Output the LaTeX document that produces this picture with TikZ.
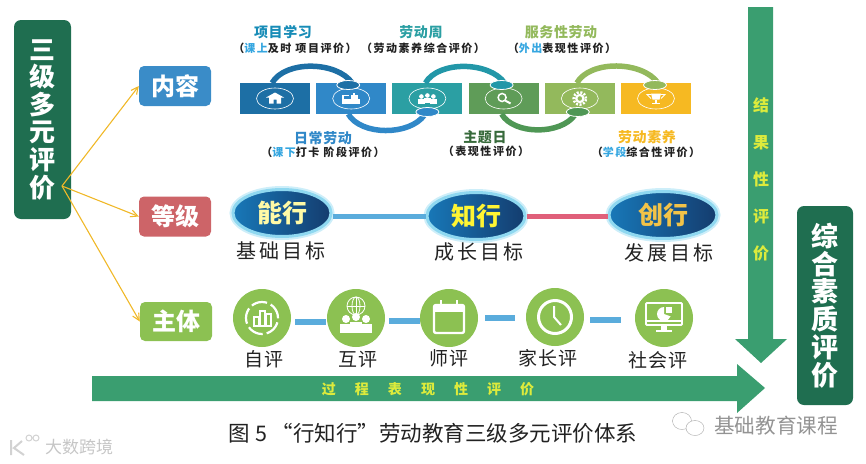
\documentclass[tikz,border=0pt]{standalone}
\usepackage{fontspec}
\setmainfont{Noto Sans CJK SC}
\usepackage{tikz}
\usetikzlibrary{positioning,arrows.meta,calc,shapes.geometric}
\newcommand{\fsz}[2]{\fontsize{#1}{#2}\selectfont}
\newcommand{\wider}[1]{\addfontfeature{LetterSpace=#1}}
\definecolor{deepgreen}{HTML}{1F6E50}
\definecolor{arrowgreen}{HTML}{3A9E70}
\definecolor{arrowtext}{HTML}{DDEB3C}
\definecolor{gold}{HTML}{F0B828}
\definecolor{boxblue}{HTML}{3A8CC8}
\definecolor{boxred}{HTML}{CD6468}
\definecolor{boxlime}{HTML}{8CC152}
\definecolor{blka}{HTML}{1D6FA5}
\definecolor{blkb}{HTML}{3088C8}
\definecolor{blkc}{HTML}{2B9FA3}
\definecolor{blkd}{HTML}{5F9C58}
\definecolor{blke}{HTML}{93B95C}
\definecolor{blkf}{HTML}{F6B922}
\definecolor{bandc}{HTML}{2297A8}
\definecolor{bandd}{HTML}{4F9755}
\definecolor{skyword}{HTML}{35A6E0}
\definecolor{barblue}{HTML}{5AACDC}
\definecolor{barred}{HTML}{E0607A}
\definecolor{inkdark}{HTML}{222222}
\definecolor{goalleft}{HTML}{1878B8}
\definecolor{goalright}{HTML}{143C6E}
\definecolor{glowin}{HTML}{8FD8F0}
\definecolor{glowout}{HTML}{CDEEF9}
\tikzset{
  sidebox/.style={fill=deepgreen,rounded corners=7pt,inner sep=0pt,text=white,
    align=center,font=\bfseries},
  kindbox/.style={fill=#1,rounded corners=5pt,minimum width=72pt,minimum height=40pt,
    inner sep=0pt,text=white,font=\bfseries\fsz{24}{24}},
  spoke/.style={-{Straight Barb[length=7pt,width=7pt]},draw=gold,line width=1.1pt},
  block/.style={fill=#1,minimum width=70pt,minimum height=31pt,inner sep=0pt,outer sep=0pt},
  ringmark/.style={ellipse,draw=white,line width=0.6pt,minimum width=37pt,minimum height=21pt,inner sep=0pt},
  band/.style={draw=#1,line width=5.5pt},
  blob/.style={ellipse,fill=#1,draw=white,line width=0.8pt,minimum width=23pt,minimum height=9pt,inner sep=0pt},
  toptitle/.style={text=#1,font=\bfseries\fsz{14}{14}\wider{4}},
  topnote/.style={text=inkdark,font=\bfseries\fsz{11}{11}\wider{14}},
  goal/.style={ellipse,minimum width=#1,minimum height=47pt,inner sep=0pt,
    left color=goalleft,right color=goalright,
    preaction={draw=glowout,line width=7pt},draw=glowin,line width=3pt,
    font=\bfseries\fsz{25}{25}},
  goalname/.style={text=inkdark,font=\fsz{20}{20}\wider{14}},
  goalbar/.style={draw=#1,line width=5pt},
  actor/.style={circle,fill=boxlime,minimum size=58pt,inner sep=0pt},
  actorname/.style={text=inkdark,font=\fsz{19}{19}\wider{4}},
  actorbar/.style={draw=barblue,line width=6pt},
  up/.style={y=1pt,white},
}
\begin{document}
\begin{tikzpicture}[x=1pt,y=-1pt]
  \useasboundingbox (0,0) rectangle (866,463);

  % left column
  \node[sidebox,minimum width=57pt,minimum height=199pt,font=\bfseries\fsz{26}{27.6}] (sanji) at (42.5,119.5) {三\\级\\多\\元\\评\\价};
  \node[kindbox=boxblue] (neirong) at (175,86) {内容};
  \node[kindbox=boxred] (dengji) at (175,216.5) {等级};
  \node[kindbox=boxlime,minimum height=39pt] (zhuti) at (176,321.5) {主体};
  \coordinate (hub) at (62,186);
  \draw[spoke] (hub) -- (neirong.west);
  \draw[spoke] (hub) -- (dengji.west);
  \draw[spoke] (hub) -- (zhuti.west);

  % content row
  \node[block=blka] (blockA) at (275,98.5) {};
  \node[block=blkb,right=6.2pt of blockA] (blockB) {};
  \node[block=blkc,right=6.2pt of blockB] (blockC) {};
  \node[block=blkd,right=6.2pt of blockC] (blockD) {};
  \node[block=blke,right=6.2pt of blockD] (blockE) {};
  \node[block=blkf,right=6.2pt of blockE] (blockF) {};
  \foreach \b in {blockA,blockB,blockC,blockD,blockE,blockF}
    \node[ringmark] (ring\b) at (\b) {};

  \coordinate (endB) at ([shift={(1,0)}]blockB.north);
  \coordinate (endC) at ([shift={(-3,1)}]blockC.south);
  \coordinate (endD) at ([shift={(1,0)}]blockD.north);
  \coordinate (endE) at ([shift={(-5,1)}]blockE.south);
  \coordinate (endF) at ([shift={(2,0)}]blockF.north);
  \draw[band=blka] ([xshift=-3pt]blockA.north) to[out=60,in=125,looseness=.85] (endB);
  \draw[band=blkb] ([xshift=-3pt]blockB.south) to[out=-60,in=-125,looseness=.85] (endC);
  \draw[band=bandc] ([xshift=-2pt]blockC.north) to[out=60,in=125,looseness=.85] (endD);
  \draw[band=bandd] ([xshift=-2pt]blockD.south) to[out=-60,in=-125,looseness=.85] (endE);
  \draw[band=blke] ([xshift=-3pt]blockE.north) to[out=60,in=125,looseness=.85] (endF);
  \node[blob=blka] (blobB) at ([shift={(-3,2)}]blockB.north) {};
  \node[blob=blkb] (blobC) at ([shift={(0,-2)}]blockC.south) {};
  \node[blob=bandc] (blobD) at ([shift={(-2,2)}]blockD.north) {};
  \node[blob=bandd] (blobE) at ([shift={(-2,-2)}]blockE.south) {};
  \node[blob=blke] (blobF) at ([shift={(-1,2)}]blockF.north) {};

  % block icons
  \begin{scope}[shift={(blockA)},up]
    \fill (-9,1) -- (0,6) -- (9,1) -- (6,1) -- (6,-5) -- (1.5,-5) -- (1.5,-1) -- (-1.5,-1) -- (-1.5,-5) -- (-6,-5) -- (-6,1) -- cycle;
  \end{scope}
  \begin{scope}[shift={(blockB)},up]
    \fill (-9,-5) rectangle (9,0);
    \fill (0,0) rectangle (7,4);
    \fill (2,4) rectangle (4,6);
    \fill (-9,0) rectangle (-7,3);
    \fill (-9,3) rectangle (-2,4);
  \end{scope}
  \begin{scope}[shift={(blockC)},up]
    \foreach \px/\py in {-6/2,0/3,6/2}{
      \fill (\px,\py) circle (2.3);
      \fill (\px-3.6,\py-7) rectangle (\px+3.6,\py-2.6);
    }
  \end{scope}
  \begin{scope}[shift={(blockD)},up,line width=1.5pt]
    \draw (-1.5,1) circle (4);
    \draw[line width=2pt] (1.5,-2) -- (7,-5);
  \end{scope}
  \begin{scope}[shift={(blockE)},up]
    \draw[line width=2.4pt,dash pattern=on 2pt off 1.6pt] (0,0) circle (6.2);
    \draw[line width=2.2pt] (0,0) circle (3.6);
  \end{scope}
  \begin{scope}[shift={(blockF)},up]
    \fill (-5,5) -- (5,5) -- (3.5,-1) -- (-3.5,-1) -- cycle;
    \draw[line width=0.9pt] (-5,4) -- (-9,4) -- (-5,0);
    \draw[line width=0.9pt] (5,4) -- (9,4) -- (5,0);
    \fill (-1,-1) rectangle (1,-4);
    \fill (-4,-4) rectangle (4,-5.5);
  \end{scope}

  % content captions
  \node[toptitle=blka!80!cyan] (titleA) at (283,32) {项目学习};
  \node[topnote] (noteA) at (295,48) {（\textcolor{skyword}{课上}及时 项目评价）};
  \node[toptitle=blkc] (titleC) at (421,32) {劳动周};
  \node[topnote] (noteC) at (423,48) {（劳动素养综合评价）};
  \node[toptitle=blke] (titleE) at (561,32) {服务性劳动};
  \node[topnote] (noteE) at (562,48) {（\textcolor{skyword}{外出}表现性评价）};
  \node[toptitle=blkb] (titleB) at (323,138) {日常劳动};
  \node[topnote] (noteB) at (323,152) {（\textcolor{skyword}{课下}打卡 阶段评价）};
  \node[toptitle=bandd!70!black] (titleD) at (485,137) {主题日};
  \node[topnote] (noteD) at (486,151) {（表现性评价）};
  \node[toptitle=blkf] (titleF) at (647,137) {劳动素养};
  \node[topnote] (noteF) at (646,152) {（\textcolor{skyword}{学段}综合性评价）};

  % level row
  \node[goal=98pt,text=yellow!35!white] (nengxing) at (282,213) {能行};
  \node[goal=98pt,text=yellow!80!white] (zhixing) at (476,216) {知行};
  \node[goal=108pt,text=gold!85!white] (chuangxing) at (663,215) {创行};
  \draw[goalbar=barblue] (nengxing.east |- zhixing.center) -- (zhixing.west);
  \draw[goalbar=barred] (zhixing.east) -- (chuangxing.west |- zhixing.center);
  \node[goalname] (jichu) at (281,251) {基础目标};
  \node[goalname] (chengzhang) at (479,252) {成长目标};
  \node[goalname] (fazhan) at (669,253) {发展目标};

  % actor row
  \node[actor] (ziping) at (262,318) {};
  \node[actor] (huping) at (356,318) {};
  \node[actor] (shiping) at (449,318) {};
  \node[actor] (jiaping) at (555,317) {};
  \node[actor] (sheping) at (664,318) {};
  \draw[actorbar] ([shift={(4,4)}]ziping.east) -- ([shift={(-1,4)}]huping.west);
  \draw[actorbar] ([shift={(4,3)}]huping.east) -- ([shift={(0,3)}]shiping.west);
  \draw[actorbar] ([shift={(7,0)}]shiping.east) -- ([shift={(-11,1)}]jiaping.west);
  \draw[actorbar] ([shift={(6,3)}]jiaping.east) -- ([shift={(-14,2)}]sheping.west);

  \begin{scope}[shift={(ziping)},up]
    \draw[line width=2.2pt,dash pattern=on 16pt off 4pt] (0,0) circle (16);
    \draw[line width=1.2pt] (-8,-8) rectangle (-3,1);
    \draw[line width=1.2pt] (-2,-8) rectangle (3,7);
    \draw[line width=1.2pt] (4,-8) rectangle (9,4);
  \end{scope}
  \begin{scope}[shift={(huping)},up]
    \draw[line width=0.8pt] (0,12) circle (9);
    \draw[line width=0.8pt] (-9,12) -- (9,12) (0,3) -- (0,21);
    \draw[line width=0.8pt] (0,12) ellipse (4 and 9);
    \foreach \px/\py in {-10/-1,10/-1,0/1}{
      \fill (\px,\py) circle (4);
      \fill (\px-6,\py-14) rectangle (\px+6,\py-5);
    }
    \fill (-16,-15) rectangle (16,-13);
  \end{scope}
  \begin{scope}[shift={(shiping)},up]
    \draw[line width=2.4pt,rounded corners=2pt] (-15,-15) rectangle (15,13);
    \fill (-15,13) rectangle (15,6);
    \fill (-9,10) rectangle (-7,18);
    \fill (7,10) rectangle (9,18);
  \end{scope}
  \begin{scope}[shift={(jiaping)},up]
    \draw[line width=3pt] (0,0) circle (16.5);
    \draw[line width=2pt] (-1,11) -- (-1,0) -- (6,-8);
  \end{scope}
  \begin{scope}[shift={(sheping)},up]
    \draw[line width=1.8pt,rounded corners=1pt] (-18,-7) rectangle (18,15);
    \draw[line width=1.2pt] (-18,-3) -- (18,-3);
    \fill (0,4) -- (0,11) arc[start angle=90,end angle=340,radius=7] -- cycle;
    \fill (2,5) rectangle (8,11);
    \fill (-3,-7) rectangle (3,-12);
    \fill (-8,-12) rectangle (8,-14);
  \end{scope}

  \node[actorname] (zi) at (264,359) {自评};
  \node[actorname] (hu) at (358,360) {互评};
  \node[actorname] (shi) at (449,358) {师评};
  \node[actorname] (jia) at (548,358) {家长评};
  \node[actorname] (she) at (658,360) {社会评};

  % big arrows
  \fill[arrowgreen] (748,7) -- (773,7) -- (773,339) -- (787,339) -- (761,363) -- (735,339) -- (748,339) -- cycle;
  \node[text=arrowtext,align=center,inner sep=0pt,font=\bfseries\fsz{16}{37}] (jieguo) at (761,179) {结\\果\\性\\评\\价};
  \fill[arrowgreen] (92,376) -- (737,376) -- (737,364) -- (765,388) -- (737,413) -- (737,401) -- (92,401) -- cycle;
  \node[text=arrowtext,inner sep=0pt,font=\bfseries\fsz{14}{14}\wider{136}] (guocheng) at (428,389) {过程表现性评价};

  \node[sidebox,minimum width=56pt,minimum height=199pt,font=\bfseries\fsz{27}{27.8}] (zonghe) at (825,305.5) {综\\合\\素\\质\\评\\价};

  % caption and marks
  \node[text=inkdark,font=\fsz{21.5}{22}] (caption) at (433,433) {图 5 “行知行”劳动教育三级多元评价体系};
  \node[ellipse,draw=gray!70,minimum width=19pt,minimum height=17pt,inner sep=0pt] (bubbleA) at (682,421) {};
  \node[ellipse,draw=gray!70,fill=white,minimum width=18pt,minimum height=15pt,inner sep=0pt] (bubbleB) at (695,428) {};
  \node[text=gray!85,font=\fsz{20.6}{21}] (wechat) at (776,426) {基础教育课程};
  \draw[gray!35,line width=2pt] (11,440) -- (11,455) (22,441) -- (14,448) -- (24,455);
  \draw[gray!35,line width=1pt] (29,438) circle (3) (36,438) circle (3);
  \node[text=gray!45,font=\fsz{17}{17}] (dashu) at (79,447) {大数跨境};
\end{tikzpicture}
\end{document}
